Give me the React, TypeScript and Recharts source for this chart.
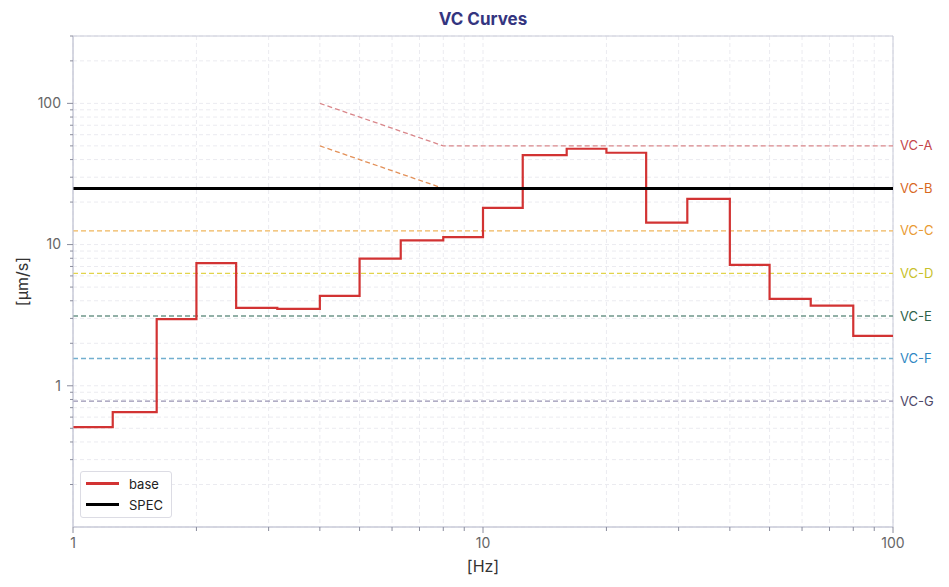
import React from 'react';
import { LineChart, Line, XAxis, YAxis, CartesianGrid, Legend, LabelList, ReferenceArea } from 'recharts';

// 1/3-octave band edges [Hz] and measured band levels [µm/s]
const bandEdges = [1, 1.25, 1.6, 2, 2.5, 3.15, 4, 5, 6.3, 8, 10, 12.5, 16, 20, 25, 31.5, 40, 50, 63, 80, 100];
const baseValues = [0.51, 0.65, 2.97, 7.4, 3.56, 3.5, 4.33, 7.95, 10.7, 11.3, 18.2, 43, 47.7, 44.7, 14.3, 21.1, 7.18, 4.12, 3.69, 2.26];

const specFreqs = [1, 100];
const specValues = [25, 25];

const vcNames = ['VC-A', 'VC-B', 'VC-C', 'VC-D', 'VC-E', 'VC-F', 'VC-G'];
const vcFreqs = [[4, 8, 100], [4, 8, 100], [1, 100], [1, 100], [1, 100], [1, 100], [1, 100]];
const vcValues = [[100, 50, 50], [50, 25, 25], [12.5, 12.5], [6.25, 6.25], [3.12, 3.12], [1.56, 1.56], [0.78, 0.78]];
const vcLineColors = ['#d9868a', '#e39058', '#f0b65c', '#e2d44c', '#6f978a', '#72afcf', '#9893b2'];
const vcLabelColors = ['#c4464b', '#d8681f', '#e99a33', '#c8c12a', '#2f6248', '#2f87c3', '#4d4868'];

const xTicks = [1, 2, 3, 4, 5, 6, 7, 8, 9, 10, 20, 30, 40, 50, 60, 70, 80, 90, 100];
const yTicks = [0.2, 0.3, 0.4, 0.5, 0.6, 0.7, 0.8, 0.9, 1, 2, 3, 4, 5, 6, 7, 8, 9, 10, 20, 30, 40, 50, 60, 70, 80, 90, 100, 200, 300];
const majorTicks = [1, 10, 100];

const legendItems = [
  { name: 'base', color: '#d23333', width: 2.2 },
  { name: 'SPEC', color: '#000000', width: 3 },
];

const baseData = bandEdges.map((f, i) => ({ f, v: baseValues[Math.min(i, baseValues.length - 1)] }));
const specData = specFreqs.map((f, i) => ({ f, v: specValues[i] }));
const vcData = vcNames.map((name, k) => vcFreqs[k].map((f, i) => ({ f, v: vcValues[k][i] })));

const FONT = 'Inter, "DejaVu Sans", sans-serif';
const TICK_SIZE = 6;
const TICK_MARGIN = 5;

const XTick = (props: any) => {
  const { x, y, payload } = props;
  const axisY = y - TICK_SIZE - TICK_MARGIN;
  const major = majorTicks.includes(payload.value);
  return (
    <g>
      <line x1={x} x2={x} y1={axisY} y2={axisY + (major ? 6 : 4)} stroke="#8a8c9c" />
      {major && (
        <text x={x} y={axisY + 11} dy="0.71em" textAnchor="middle" fill="#666" fontSize={14} fontFamily={FONT}>
          {payload.value}
        </text>
      )}
    </g>
  );
};

const YTick = (props: any) => {
  const { x, y, payload } = props;
  const axisX = x + TICK_SIZE + TICK_MARGIN;
  const major = majorTicks.includes(payload.value);
  return (
    <g>
      <line x1={axisX - (major ? 6 : 3)} x2={axisX} y1={y} y2={y} stroke="#8a8c9c" />
      {major && (
        <text x={axisX - 12} y={y} dy="0.35em" textAnchor="end" fill="#666" fontSize={14} fontFamily={FONT}>
          {payload.value}
        </text>
      )}
    </g>
  );
};

const LegendBox = () => (
  <div
    style={{
      background: '#fff',
      border: '1px solid #dcdce4',
      borderRadius: 3,
      padding: '1px 8px 2px 5px',
      fontFamily: FONT,
      fontSize: 13,
      color: '#222',
    }}
  >
    {legendItems.map((it) => (
      <div key={it.name} style={{ display: 'flex', alignItems: 'center', height: 21 }}>
        <div style={{ width: 33, height: it.width, background: it.color, marginRight: 10 }} />
        <span>{it.name}</span>
      </div>
    ))}
  </div>
);

export default function App() {
  return (
    <div style={{ position: 'absolute', left: 0, top: 0, width: 949, height: 587, background: '#fff' }}>
      <div
        style={{
          position: 'absolute',
          left: 73,
          width: 820,
          top: 9,
          textAlign: 'center',
          fontFamily: FONT,
          fontWeight: 700,
          fontSize: 17,
          lineHeight: '20px',
          color: '#34357f',
        }}
      >
        VC Curves
      </div>
      <LineChart width={949} height={587} margin={{ top: 36, right: 56, bottom: 0, left: 0 }}>
        <CartesianGrid stroke="#ebebf0" strokeDasharray="4 3" />
        <XAxis
          dataKey="f"
          type="number"
          scale="log"
          domain={[1, 100]}
          ticks={xTicks}
          interval={0}
          height={60}
          tickSize={TICK_SIZE}
          tickMargin={TICK_MARGIN}
          tickLine={false}
          tick={<XTick />}
          stroke="#c8cad8"
          label={({ viewBox }: any) => (
            <text x={viewBox.x + viewBox.width / 2} y={566} dy="0.35em" textAnchor="middle" fontSize={16} fill="#333" fontFamily={FONT}>
              [Hz]
            </text>
          )}
        />
        <YAxis
          dataKey="v"
          type="number"
          scale="log"
          domain={[0.1, 300]}
          ticks={yTicks}
          interval={0}
          width={73}
          tickSize={TICK_SIZE}
          tickMargin={TICK_MARGIN}
          tickLine={false}
          tick={<YTick />}
          stroke="#c8cad8"
          label={({ viewBox }: any) => (
            <text
              x={22}
              y={viewBox.y + viewBox.height / 2}
              dy="0.35em"
              textAnchor="middle"
              fontSize={16}
              fill="#333"
              fontFamily={FONT}
              transform={`rotate(-90 22 ${viewBox.y + viewBox.height / 2})`}
            >
              [µm/s]
            </text>
          )}
        />
        <ReferenceArea x1={1} x2={100} y1={0.1} y2={300} fill="none" stroke="#c8cad8" />
        {vcNames.map((name, k) => (
          <Line
            key={name}
            data={vcData[k]}
            dataKey="v"
            stroke={vcLineColors[k]}
            strokeWidth={1.3}
            strokeDasharray="5 3"
            dot={false}
            activeDot={false}
            isAnimationActive={false}
            legendType="none"
          >
            <LabelList
              dataKey="v"
              content={(p: any) =>
                p.index === vcData[k].length - 1 ? (
                  <text x={p.x + 7} y={p.y} dy="0.35em" fill={vcLabelColors[k]} fontSize={13} fontFamily={FONT}>
                    {name}
                  </text>
                ) : null
              }
            />
          </Line>
        ))}
        <Line
          data={baseData}
          dataKey="v"
          name="base"
          type="stepAfter"
          stroke="#d23333"
          strokeWidth={2.2}
          dot={false}
          activeDot={false}
          isAnimationActive={false}
        />
        <Line
          data={specData}
          dataKey="v"
          name="SPEC"
          stroke="#000"
          strokeWidth={3}
          dot={false}
          activeDot={false}
          isAnimationActive={false}
        />
        <Legend
          layout="horizontal"
          align="center"
          verticalAlign="middle"
          content={() => <LegendBox />}
          wrapperStyle={{ left: 80, top: 471, width: 'auto' }}
        />
      </LineChart>
    </div>
  );
}
